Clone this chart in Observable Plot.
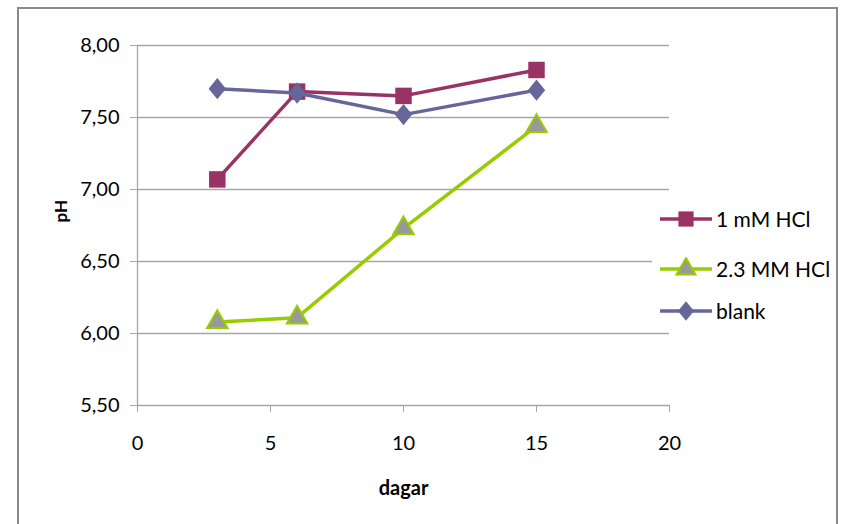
<!DOCTYPE html>
<html>
<head>
<meta charset="utf-8">
<script src="https://cdn.jsdelivr.net/npm/d3@7"></script>
<script src="https://cdn.jsdelivr.net/npm/@observablehq/plot@0.6"></script>
<style>
  html, body { margin: 0; padding: 0; background: #fff; overflow: hidden; }
  #wrap { position: relative; width: 842px; height: 524px; overflow: hidden; font-family: Lato, "Open Sans", sans-serif; }
  #frame { position: absolute; left: 17px; top: 7px; width: 821px; height: 540px; border: 2px solid #8a8a8a; box-sizing: border-box; pointer-events: none; }
  #chart { position: absolute; left: 0; top: 0; }
  #legend { position: absolute; left: 652px; top: 200px; width: 180px; height: 128px; background: #fff; }
  .item { position: absolute; left: 7px; display: flex; align-items: center; font-size: 21px; color: #000; white-space: nowrap; }
  .item svg { margin-right: 3px; }
</style>
</head>
<body>
<div id="wrap">
  <div id="chart"></div>
  <div id="legend"></div>
  <div id="frame"></div>
</div>
<script>
const days = [3, 6, 10, 15];
const seriesNames = ["1 mM HCl", "2.3 MM HCl", "blank"];
const ph1mM = [7.07, 7.68, 7.65, 7.83];
const ph23mM = [6.08, 6.11, 6.73, 7.44];
const phBlank = [7.70, 7.67, 7.52, 7.69];
const xTicks = [0, 5, 10, 15, 20];
const yTicks = [5.5, 6.0, 6.5, 7.0, 7.5, 8.0];

const colors = { "1 mM HCl": "#993366", "2.3 MM HCl": "#99cc00", "blank": "#666699" };
const fills = { "1 mM HCl": "#993366", "2.3 MM HCl": "#999999", "blank": "#666699" };

// tall diamond like the reference
const tallDiamond = {
  draw(context, size) {
    const s = Math.sqrt(size / Math.PI);
    const hh = 1.3 * s, hw = 1.06 * s;
    context.moveTo(0, -hh);
    context.lineTo(hw, 0);
    context.lineTo(0, hh);
    context.lineTo(-hw, 0);
    context.closePath();
  }
};
const symbols = { "1 mM HCl": d3.symbolSquare, "2.3 MM HCl": d3.symbolTriangle, "blank": tallDiamond };
const radii = { "1 mM HCl": 9.3, "2.3 MM HCl": 7.6, "blank": 8.2 };
const values = { "1 mM HCl": ph1mM, "2.3 MM HCl": ph23mM, "blank": phBlank };

const data = seriesNames.flatMap(s => days.map((d, i) => ({ series: s, day: d, ph: values[s][i] })));
const fmt = d => d.toFixed(2).replace(".", ",");

const marks = [
  Plot.ruleY(yTicks.filter(v => v > 5.5), { stroke: "#a6a6a6", strokeWidth: 1.3 }),
  Plot.ruleY([5.5], { stroke: "#a6a6a6", strokeWidth: 1.3 }),
  Plot.ruleX([0], { stroke: "#a6a6a6", strokeWidth: 1.3 }),
  Plot.axisY({ ticks: yTicks, tickSize: 7, tickPadding: 11, tickFormat: fmt, fontSize: 20, stroke: "#a6a6a6", label: null }),
  Plot.axisX({ ticks: xTicks, tickSize: 7, tickPadding: 23, fontSize: 20, stroke: "#a6a6a6", label: null }),
  Plot.text(["dagar"], { frameAnchor: "bottom", dy: 89, fontSize: 20, fontWeight: "bold", fill: "#000" }),
  Plot.text(["pH"], { frameAnchor: "left", dx: -76, dy: -3, rotate: -90, fontSize: 17, fontWeight: "bold", fill: "#000" })
];
for (const s of seriesNames) {
  const sub = data.filter(d => d.series === s);
  marks.push(Plot.line(sub, { x: "day", y: "ph", stroke: colors[s], strokeWidth: 3.5 }));
  marks.push(Plot.dot(sub, {
    x: "day", y: "ph", symbol: () => symbols[s], r: radii[s],
    fill: fills[s], stroke: s === "2.3 MM HCl" ? colors[s] : "none", strokeWidth: 2
  }));
}

const chart = Plot.plot({
  width: 842,
  height: 524,
  marginLeft: 137,
  marginRight: 173,
  marginTop: 45,
  marginBottom: 119,
  style: { fontFamily: "Lato, 'Open Sans', sans-serif", color: "#000", background: "transparent" },
  x: { domain: [0, 20] },
  y: { domain: [5.5, 8] },
  marks
});
document.getElementById("chart").appendChild(chart);

// legend
const legend = document.getElementById("legend");
const tops = [18, 68, 110];
seriesNames.forEach((s, i) => {
  const item = document.createElement("div");
  item.className = "item";
  item.style.top = (tops[i] - 12) + "px";
  const sym = d3.symbol().type(symbols[s]).size(Math.PI * radii[s] * radii[s] * 0.85)();
  item.innerHTML = `<svg width="54" height="24"><line x1="1" x2="53" y1="12" y2="12" stroke="${colors[s]}" stroke-width="3.5"/>` +
    `<path d="${sym}" transform="translate(27,12)" fill="${fills[s]}" stroke="${s === "2.3 MM HCl" ? colors[s] : "none"}" stroke-width="2"/></svg>` +
    `<span>${s}</span>`;
  legend.appendChild(item);
});
</script>
</body>
</html>
